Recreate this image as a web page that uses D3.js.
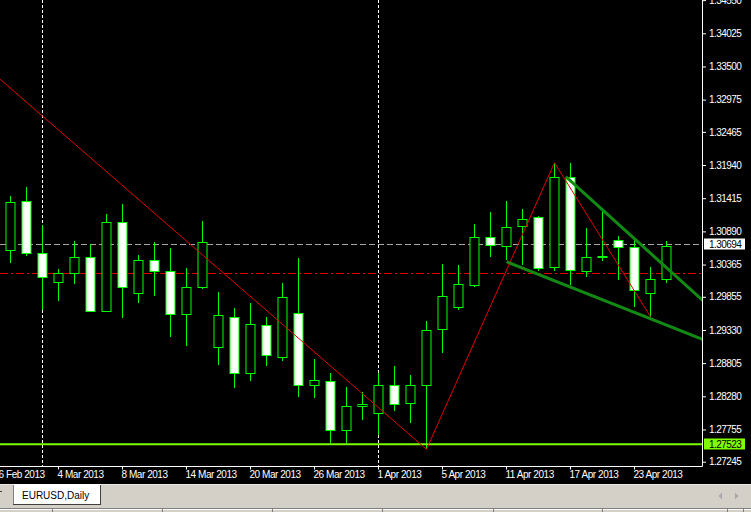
<!DOCTYPE html>
<html><head><meta charset="utf-8">
<script src="https://cdn.jsdelivr.net/npm/d3@7"></script>
<style>
html,body{margin:0;padding:0;background:#000;overflow:hidden;}
svg{display:block;}
text{font-family:"Liberation Sans",Arial,sans-serif;}
</style></head><body>
<svg id="c" width="751" height="512"></svg>
<script>
// ---- data -------------------------------------------------------------
const days = [
 "2013-02-01","2013-02-04","2013-02-05","2013-02-06","2013-02-07","2013-02-08",
 "2013-02-11","2013-02-12","2013-02-13","2013-02-14","2013-02-15",
 "2013-02-18","2013-02-19","2013-02-20","2013-02-21","2013-02-22",
 "2013-02-25","2013-02-26","2013-02-27","2013-02-28",
 "2013-03-01","2013-03-04","2013-03-05","2013-03-06","2013-03-07","2013-03-08",
 "2013-03-11","2013-03-12","2013-03-13","2013-03-14","2013-03-15",
 "2013-03-18","2013-03-19","2013-03-20","2013-03-21","2013-03-22",
 "2013-03-25","2013-03-26","2013-03-27","2013-03-28","2013-03-29",
 "2013-04-01","2013-04-02","2013-04-03","2013-04-04","2013-04-05",
 "2013-04-08","2013-04-09","2013-04-10","2013-04-11","2013-04-12",
 "2013-04-15","2013-04-16","2013-04-17","2013-04-18","2013-04-19",
 "2013-04-22","2013-04-23","2013-04-24","2013-04-25"
];
const firstCandle = "2013-02-27";
const open  = [1.30591,1.31371,1.30548,1.30094,1.30227,1.30480,1.29635,1.31034,1.29920,1.30432,1.30258,1.29578,1.30005,1.29065,1.29540,1.28644,1.29413,1.28907,1.29594,1.28454,1.28527,1.27742,1.28122,1.28011,1.28454,1.28169,1.28454,1.29341,1.29698,1.30042,1.30796,1.30664,1.30975,1.31113,1.30322,1.31746,1.30268,1.30489,1.30749,1.30648,1.29910,1.30132];
const high  = [1.31450,1.31593,1.30991,1.30295,1.30738,1.30690,1.31165,1.31323,1.30516,1.30717,1.30622,1.30306,1.31054,1.29926,1.29673,1.29752,1.29530,1.30068,1.30464,1.28866,1.28644,1.28432,1.28343,1.28644,1.28760,1.28617,1.29472,1.30374,1.30358,1.31007,1.31202,1.31371,1.31240,1.31134,1.31977,1.31968,1.30939,1.31240,1.30822,1.30765,1.30322,1.30743];
const low   = [1.30390,1.30501,1.29646,1.29793,1.30057,1.29619,1.29630,1.29524,1.29761,1.29868,1.29214,1.29081,1.29974,1.28775,1.28407,1.28527,1.28764,1.28844,1.28264,1.28249,1.27509,1.27509,1.27905,1.27668,1.28052,1.27862,1.27441,1.28970,1.29646,1.30015,1.30489,1.30437,1.30358,1.30268,1.30268,1.30042,1.30173,1.30426,1.30121,1.29698,1.29540,1.30078];
const close = [1.31360,1.30548,1.30168,1.30227,1.30480,1.29635,1.31034,1.30015,1.30432,1.30263,1.29578,1.30005,1.30717,1.29562,1.28644,1.29420,1.28929,1.29847,1.28454,1.28533,1.27742,1.28122,1.28158,1.28454,1.28154,1.28454,1.29329,1.29868,1.30053,1.30796,1.30675,1.30964,1.31081,1.30306,1.31746,1.30279,1.30480,1.30495,1.30638,1.29962,1.30132,1.30664];

const priceTicks = [1.34550,1.34025,1.33500,1.32975,1.32465,1.31940,1.31415,1.30890,1.30365,1.29855,1.29330,1.28805,1.28280,1.27755,1.27245];
const dateTicks = ["2013-02-26","2013-03-04","2013-03-08","2013-03-14","2013-03-20","2013-03-26","2013-04-01","2013-04-05","2013-04-11","2013-04-17","2013-04-23"];
const separators = ["2013-03-01","2013-04-01"];

const bidPrice = 1.30694;
const levelPrice = 1.27523;
const redLevelPrice = 1.30230;

const zigzagDates  = ["2013-02-01","2013-04-04","2013-04-16","2013-04-24"];
const zigzagPrices = [1.37110,1.27441,1.31977,1.29540];

const upperTrend = [{date:"2013-04-16",hour:17,price:1.31756},{date:"2013-04-25",hour:0,price:1.30315}];
const lowerTrend = [{date:"2013-04-11",hour:0,price:1.30410},{date:"2013-04-25",hour:0,price:1.29407}];

const symbolTab = "EURUSD,Daily";

// ---- layout -----------------------------------------------------------
const W = 751, H = 512, PR = 702, PB = 466, CHART_BOTTOM = 484;
const svg = d3.select("#c");
const bar = (d, h=0) => days.indexOf(d) + h/24;
const i0 = bar(firstCandle);
const x = d3.scaleLinear().domain([i0, days.length - 1]).range([10.5, 666.5]);
const y = d3.scaleLinear().domain([1.27245, 1.34025]).range([461.7, 33.3]);
const py = v => Math.round(y(v)) + 0.5;

svg.append("rect").attr("x",0).attr("y",0).attr("width",W).attr("height",CHART_BOTTOM).attr("fill","#000");

const defs = svg.append("defs");
defs.append("clipPath").attr("id","plot").append("rect").attr("x",0).attr("y",0).attr("width",PR).attr("height",PB);
const plot = svg.append("g").attr("clip-path","url(#plot)");

// period separators
plot.selectAll("line.sep").data(separators).join("line")
  .attr("x1", d => x(bar(d))).attr("x2", d => x(bar(d)))
  .attr("y1", 0).attr("y2", PB)
  .attr("stroke","#fff").attr("stroke-width",1).attr("stroke-dasharray","3,2");

// bid line
plot.append("line").attr("x1",0).attr("x2",PR).attr("y1",py(bidPrice)).attr("y2",py(bidPrice))
  .attr("stroke","#a8a8a8").attr("stroke-width",1).attr("stroke-dasharray","6,3");

// red dash-dot level
plot.append("line").attr("x1",0).attr("x2",PR).attr("y1",py(redLevelPrice)).attr("y2",py(redLevelPrice))
  .attr("stroke","#e00000").attr("stroke-width",1).attr("stroke-dasharray","8,3,2,3");

// candles
const candles = open.map((o,k) => ({i: i0 + k, o, h: high[k], l: low[k], c: close[k]}));
const cg = plot.append("g");
cg.selectAll("line.wick").data(candles).join("line")
  .attr("x1", d => x(d.i)).attr("x2", d => x(d.i))
  .attr("y1", d => Math.round(y(d.h))).attr("y2", d => Math.round(y(d.l)))
  .attr("stroke","#00ff00").attr("stroke-width",1);
cg.selectAll("rect.body").data(candles).join("rect")
  .attr("x", d => x(d.i) - 4.5)
  .attr("width", 9)
  .attr("y", d => py(Math.max(d.o,d.c)))
  .attr("height", d => Math.max(1, py(Math.min(d.o,d.c)) - py(Math.max(d.o,d.c))))
  .attr("fill", d => d.c >= d.o ? "#000" : "#fff")
  .attr("stroke","#00ff00").attr("stroke-width",1);

// horizontal support level
plot.append("line").attr("x1",0).attr("x2",PR).attr("y1",y(levelPrice)).attr("y2",y(levelPrice))
  .attr("stroke","#7cfc00").attr("stroke-width",2);

// zigzag
const zz = zigzagDates.map((d,k) => [x(bar(d)), y(zigzagPrices[k])]);
plot.append("path").attr("d", d3.line()(zz)).attr("fill","none")
  .attr("stroke","#e00000").attr("stroke-width",1);

// trend rays
function ray(t){
  const b1 = bar(t[0].date,t[0].hour), b2 = bar(t[1].date,t[1].hour);
  const slope = (t[1].price - t[0].price)/(b2 - b1);
  const b3 = b2 + 10;
  return [[x(b1), y(t[0].price)], [x(b3), y(t[1].price + slope*(b3-b2))]];
}
[upperTrend, lowerTrend].forEach(t => {
  plot.append("path").attr("d", d3.line()(ray(t))).attr("fill","none")
    .attr("stroke","#138a13").attr("stroke-width",3).attr("stroke-linecap","butt");
});

// borders
svg.append("line").attr("x1",PR+0.5).attr("x2",PR+0.5).attr("y1",0).attr("y2",PB+0.5).attr("stroke","#fff");
svg.append("line").attr("x1",0).attr("x2",PR+0.5).attr("y1",PB+0.5).attr("y2",PB+0.5).attr("stroke","#fff");

// price axis
const ya = svg.append("g").attr("transform",`translate(${PR+1},0)`)
  .call(d3.axisRight(y).tickValues(priceTicks).tickSize(3).tickPadding(3).tickFormat(d3.format(".5f")));
ya.select(".domain").remove();
ya.selectAll("line").attr("stroke","#fff");
ya.selectAll("text").attr("fill","#fff").style("font-size","10px").style("letter-spacing","-0.55px");

// date axis
const fmt = d3.timeFormat("%-d %b %Y"), parse = d3.timeParse("%Y-%m-%d");
const xa = svg.append("g").attr("transform",`translate(0,${PB+0.5})`)
  .call(d3.axisBottom(x).offset(0).tickValues(dateTicks.map(d => bar(d))).tickSize(3)
    .tickFormat(i => fmt(parse(days[i]))));
xa.select(".domain").remove();
xa.selectAll("line").attr("stroke","#fff");
xa.selectAll("text").attr("fill","#fff").attr("text-anchor","start").attr("x",-1)
  .attr("y",11.8).attr("dy",0).style("font-size","10px").style("letter-spacing","-0.45px");

// price labels (bid / level)
function priceBox(v, bg){
  const cy = Math.round(y(v));
  svg.append("rect").attr("x",704).attr("y",cy-5.5).attr("width",41).attr("height",11).attr("fill",bg);
  svg.append("text").attr("x",709).attr("y",cy).attr("dy","0.35em").attr("fill","#000")
    .style("font-size","10px").style("letter-spacing","-0.55px").text(d3.format(".5f")(v));
}
priceBox(bidPrice, "#ffffff");
priceBox(levelPrice, "#80ff00");

// ---- bottom tab bar -------------------------------------------------
svg.append("rect").attr("x",0).attr("y",CHART_BOTTOM).attr("width",W).attr("height",H-CHART_BOTTOM).attr("fill","#d4d0c8");
svg.append("line").attr("x1",0).attr("x2",W).attr("y1",484.5).attr("y2",484.5).attr("stroke","#e8e6e0");
svg.append("rect").attr("x",13).attr("y",484).attr("width",88).attr("height",20).attr("fill","#fff");
svg.append("line").attr("x1",13.5).attr("x2",13.5).attr("y1",485).attr("y2",504).attr("stroke","#808080");
svg.append("line").attr("x1",100.5).attr("x2",100.5).attr("y1",485).attr("y2",505).attr("stroke","#404040");
svg.append("line").attr("x1",13).attr("x2",101).attr("y1",504.5).attr("y2",504.5).attr("stroke","#404040");
svg.append("text").attr("x",22).attr("y",499.3).attr("fill","#000").style("font-size","10px").text(symbolTab);
svg.append("line").attr("x1",0).attr("x2",2).attr("y1",491.5).attr("y2",491.5).attr("stroke","#404040");
svg.append("path").attr("d","M722,492.5 L718.5,496 L722,499.5 Z").attr("fill","#a8a8a8");
svg.append("path").attr("d","M735,492.5 L738.5,496 L735,499.5 Z").attr("fill","#a8a8a8");
svg.append("line").attr("x1",0).attr("x2",W).attr("y1",508.5).attr("y2",508.5).attr("stroke","#808080");
svg.append("line").attr("x1",0).attr("x2",W).attr("y1",509.5).attr("y2",509.5).attr("stroke","#ffffff");
[52,162,272,382,493,602,727,743].forEach(sx => {
  svg.append("line").attr("x1",sx+0.5).attr("x2",sx+0.5).attr("y1",509).attr("y2",512).attr("stroke","#808080");
});
</script>
</body></html>
